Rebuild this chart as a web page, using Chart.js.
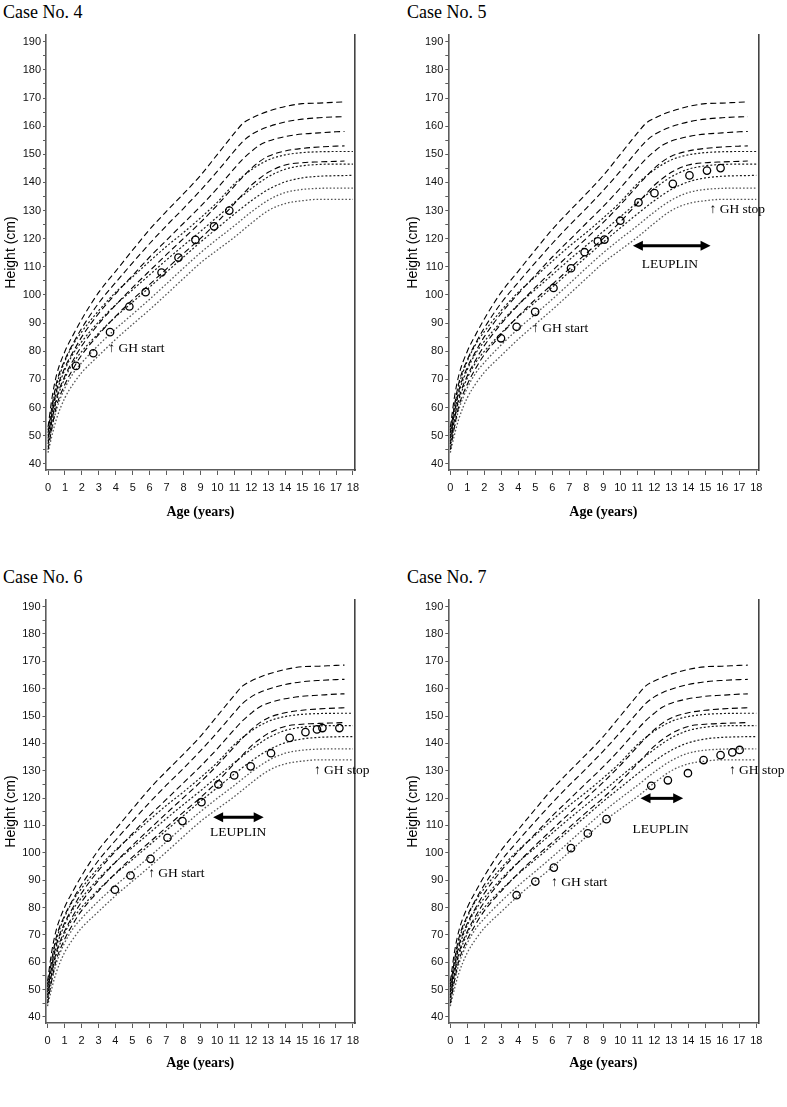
<!DOCTYPE html>
<html>
<head>
<meta charset="utf-8">
<script src="https://cdn.jsdelivr.net/npm/chart.js@4.4.1/dist/chart.umd.min.js"></script>
<style>
    body { margin: 0; background: #fff; width: 787px; height: 1107px; position: relative; overflow: hidden; }
    canvas { position: absolute; }
    .case-title {
        position: absolute;
        font-family: 'Liberation Serif', 'Times New Roman', serif;
        font-size: 18px;
        line-height: 20px;
        color: #000;
        white-space: nowrap;
    }
</style>
</head>
<body>
<div class="case-title" style="left:3px; top:2px;">Case No. 4</div>
<div class="case-title" style="left:407px; top:2px;">Case No. 5</div>
<div class="case-title" style="left:3px; top:567px;">Case No. 6</div>
<div class="case-title" style="left:407px; top:567px;">Case No. 7</div>
<canvas id="chart4" width="393" height="548" style="left:0px; top:0px;"></canvas>
<canvas id="chart5" width="385" height="548" style="left:402px; top:0px;"></canvas>
<canvas id="chart6" width="393" height="537" style="left:0px; top:564px;"></canvas>
<canvas id="chart7" width="385" height="537" style="left:402px; top:564px;"></canvas>
<script>
// 基準曲線（破線：一般女子 +2SD〜-2SD）
const normAges = [0, 0.25, 0.5, 1, 1.5, 2, 3, 4, 5, 6, 7, 8, 9, 10, 11, 11.5, 12, 12.5, 13, 14, 15, 16, 17, 17.5];
const normPlus2 = [53, 64, 71.5, 80, 86, 91.5, 101, 108.5, 116, 123.3, 129.8, 136, 142.5, 150, 157.5, 161, 162.8, 164.2, 165.3, 167, 168, 168.2, 168.5, 168.6];
const normPlus1 = [51, 61, 68.8, 77, 83, 88.3, 97.2, 104.5, 111.5, 118.3, 124.7, 130.8, 137.2, 144, 151.2, 154.6, 157, 158.6, 159.8, 161.5, 162.5, 163, 163.3, 163.4];
const normMean = [49, 58.5, 66, 74.3, 80, 85.2, 93.5, 100.5, 107, 113.5, 119.5, 125.5, 131.5, 138, 145, 148.3, 151, 153.3, 154.7, 156.3, 157.2, 157.6, 158, 158.1];
const normMinus1 = [47, 56, 63.3, 71.3, 77, 82, 89.8, 96.5, 102.7, 108.6, 114.4, 120.1, 125.8, 132, 138.7, 142, 145, 147.5, 149.3, 151.2, 152.1, 152.6, 152.9, 153];
const normMinus2 = [45, 53.5, 60.5, 68.3, 74, 78.8, 86, 92.5, 98.4, 103.8, 109.3, 114.8, 120.1, 126, 132.5, 135.8, 139, 141.5, 143.6, 146.2, 147, 147.3, 147.5, 147.6];

// 基準曲線（点線）
const dotAges = [0, 0.25, 0.5, 1, 1.5, 2, 3, 4, 5, 6, 7, 8, 9, 10, 11, 12, 13, 14, 15, 16, 17, 18];
const dot1 = [52, 60.5, 67.8, 76.5, 82.5, 87, 94.5, 101, 106.5, 112, 117.3, 122.2, 127.4, 133, 139.5, 144.5, 148, 149.8, 150.6, 150.9, 151, 151];
const dot2 = [50, 58.3, 65.2, 73.5, 79.3, 83.5, 90.5, 96.6, 101.9, 107.2, 112.5, 117.6, 122.6, 127.8, 132.9, 137.8, 142, 144.7, 145.9, 146.4, 146.5, 146.5];
const dot3 = [48, 56, 62.5, 70.5, 76, 80, 86.5, 92.3, 97.5, 102.8, 108.2, 113.5, 118.8, 123.8, 128.8, 133.5, 137.5, 140.2, 141.6, 142.2, 142.4, 142.5];
const dot4 = [46, 53.2, 59.3, 67, 72.3, 76, 82.3, 88, 93.2, 98.5, 104, 109.6, 115, 119.9, 124.6, 129.5, 133.7, 136.4, 137.5, 137.9, 138, 138];
const dot5 = [44, 50.5, 56, 63.5, 68.5, 72.5, 78.5, 84.3, 89.6, 94.8, 100.3, 105.9, 111.4, 116, 120.5, 125.5, 130, 132.5, 133.5, 134, 134, 134];

// 症例データ
const case4Age = [1.65, 2.67, 3.66, 4.8, 5.76, 6.7, 7.7, 8.7, 9.8, 10.7];
const case4Height = [74.8, 79.3, 86.8, 95.9, 101.0, 108.0, 113.3, 119.6, 124.4, 130.0];
const case5Age = [2.98, 3.9, 4.99, 6.07, 7.1, 7.9, 8.68, 9.07, 10.0, 11.07, 12.01, 13.09, 14.07, 15.1, 15.9];
const case5Height = [84.6, 88.7, 94.0, 102.5, 109.5, 115.2, 119.1, 119.7, 126.4, 132.9, 136.2, 139.5, 142.5, 144.2, 145.1];
const case6Age = [3.97, 4.89, 6.07, 7.07, 7.95, 9.07, 10.07, 11.0, 11.97, 13.17, 14.27, 15.2, 15.88, 16.2, 17.2];
const case6Height = [86.5, 91.7, 97.8, 105.5, 111.6, 118.5, 125.0, 128.3, 131.6, 136.4, 142.0, 144.1, 145.1, 145.6, 145.6];
const case7Age = [3.9, 5.0, 6.09, 7.1, 8.09, 9.19, 11.82, 12.8, 13.98, 14.9, 15.9, 16.59, 17.02];
const case7Height = [84.5, 89.5, 94.6, 101.7, 107.1, 112.3, 124.5, 126.5, 129.1, 133.9, 135.7, 136.7, 137.6];

// 目盛り
const xTickValues = [0, 1, 2, 3, 4, 5, 6, 7, 8, 9, 10, 11, 12, 13, 14, 15, 16, 17, 18];
const yTickValues = [40, 45, 50, 55, 60, 65, 70, 75, 80, 85, 90, 95, 100, 105, 110, 115, 120, 125, 130, 135, 140, 145, 150, 155, 160, 165, 170, 175, 180, 185, 190];

// 注記（年齢, 身長）
const notes4 = [{ text: '↑ GH start', age: 3.56, cm: 81.1 }];
const notes5 = [{ text: '↑ GH start', age: 4.81, cm: 88.0 }, { text: '↑ GH stop', age: 15.25, cm: 130.3 }];
const notes6 = [{ text: '↑ GH start', age: 5.93, cm: 92.3 }, { text: '↑ GH stop', age: 15.7, cm: 130.1 }];
const notes7 = [{ text: '↑ GH start', age: 5.93, cm: 89.1 }, { text: '↑ GH stop', age: 16.39, cm: 130.2 }];
const leuplin5 = { from: 10.74, to: 15.31, cm: 117.5, labelAge: 12.92, labelCm: 110.8 };
const leuplin6 = { from: 9.76, to: 12.74, cm: 113.0, labelAge: 11.23, labelCm: 107.3 };
const leuplin7 = { from: 11.19, to: 13.7, cm: 119.9, labelAge: 12.37, labelCm: 108.4 };

const sansFont = "'Liberation Sans', Arial, sans-serif";
const serifFont = "'Liberation Serif', 'Times New Roman', serif";

function toPoints(xs, ys) {
    return xs.map((x, i) => ({ x: x, y: ys[i] }));
}

// 注記描画プラグイン
const notesPlugin = {
    id: 'caseNotes',
    afterDatasetsDraw(chart, args, opts) {
        const ctx = chart.ctx;
        const xs = chart.scales.x;
        const ys = chart.scales.y;
        ctx.save();
        ctx.fillStyle = '#000';
        ctx.strokeStyle = '#000';
        ctx.textBaseline = 'middle';
        ctx.textAlign = 'left';
        ctx.font = '13.5px ' + serifFont;
        (opts.labels || []).forEach(n => {
            ctx.fillText(n.text, xs.getPixelForValue(n.age), ys.getPixelForValue(n.cm));
        });
        const a = opts.arrow;
        if (a) {
            const x1 = xs.getPixelForValue(a.from);
            const x2 = xs.getPixelForValue(a.to);
            const y = ys.getPixelForValue(a.cm);
            const head = 10, half = 5;
            ctx.lineWidth = 3;
            ctx.beginPath();
            ctx.moveTo(x1 + head - 1, y);
            ctx.lineTo(x2 - head + 1, y);
            ctx.stroke();
            ctx.beginPath();
            ctx.moveTo(x1, y);
            ctx.lineTo(x1 + head, y - half);
            ctx.lineTo(x1 + head, y + half);
            ctx.closePath();
            ctx.fill();
            ctx.beginPath();
            ctx.moveTo(x2, y);
            ctx.lineTo(x2 - head, y - half);
            ctx.lineTo(x2 - head, y + half);
            ctx.closePath();
            ctx.fill();
            ctx.textAlign = 'center';
            ctx.font = '13.5px ' + serifFont;
            ctx.fillText('LEUPLIN', xs.getPixelForValue(a.labelAge), ys.getPixelForValue(a.labelCm));
        }
        ctx.restore();
    }
};

function curve(ages, values, dash, color, width) {
    return {
        data: toPoints(ages, values),
        showLine: true,
        borderColor: color,
        borderWidth: width,
        borderDash: dash,
        pointRadius: 0,
        fill: false,
        cubicInterpolationMode: 'monotone'
    };
}

// グラフ生成
function makeChart(id, geom, ages, heights, labels, arrow) {
    const canvas = document.getElementById(id);
    const axisColor = '#5c5c5c';
    const datasets = [
        {
            data: toPoints(ages, heights),
            showLine: false,
            pointStyle: 'circle',
            pointRadius: 3.7,
            pointBorderWidth: 1.3,
            pointBorderColor: '#000',
            pointBackgroundColor: 'rgba(255,255,255,0)'
        },
        curve(normAges, normPlus2, [6, 3.5], '#000', 1.1),
        curve(normAges, normPlus1, [6, 3.5], '#000', 1.1),
        curve(normAges, normMean, [6, 3.5], '#000', 1.1),
        curve(normAges, normMinus1, [6, 3.5], '#000', 1.1),
        curve(normAges, normMinus2, [6, 3.5], '#000', 1.1),
        curve(dotAges, dot1, [2, 2], '#1a1a1a', 1.2),
        curve(dotAges, dot2, [2, 2], '#1a1a1a', 1.2),
        curve(dotAges, dot3, [2, 2], '#1a1a1a', 1.2),
        curve(dotAges, dot4, [1.6, 2], '#555', 1.3),
        curve(dotAges, dot5, [1.6, 2], '#555', 1.3)
    ];
    return new Chart(canvas.getContext('2d'), {
        type: 'scatter',
        data: { datasets: datasets },
        plugins: [notesPlugin],
        options: {
            responsive: false,
            devicePixelRatio: 1,
            animation: false,
            events: [],
            layout: { padding: { top: geom.top, left: 0, right: 0, bottom: 0 } },
            plugins: {
                legend: { display: false },
                tooltip: { enabled: false },
                caseNotes: { labels: labels, arrow: arrow }
            },
            scales: {
                x: {
                    type: 'linear',
                    min: -0.12,
                    max: 18.12,
                    afterBuildTicks: s => { s.ticks = xTickValues.map(v => ({ value: v })); },
                    afterFit: s => { s.height = geom.h - geom.bottom; },
                    ticks: { font: { family: sansFont, size: 11 }, color: '#111', padding: 6, maxRotation: 0, autoSkip: false },
                    grid: { drawOnChartArea: false, drawTicks: true, tickLength: 5, color: axisColor },
                    border: { display: true, color: axisColor, width: 1.6 },
                    title: {
                        display: true,
                        text: 'Age (years)',
                        color: '#000',
                        font: { family: serifFont, size: 14, weight: 'bold' },
                        padding: { top: 0, bottom: geom.titlePad }
                    }
                },
                y: {
                    type: 'linear',
                    position: 'left',
                    min: 37.8,
                    max: 192.4,
                    afterBuildTicks: s => { s.ticks = yTickValues.map(v => ({ value: v })); },
                    afterFit: s => { s.width = geom.left; },
                    ticks: {
                        callback: v => (v % 10 === 0 ? v : ''),
                        font: { family: sansFont, size: 11 },
                        color: '#111',
                        padding: 2,
                        autoSkip: false
                    },
                    grid: { drawOnChartArea: false, drawTicks: true, tickLength: 3, color: axisColor },
                    border: { display: true, color: axisColor, width: 1.6 },
                    title: {
                        display: true,
                        text: 'Height (cm)',
                        color: '#000',
                        font: { family: sansFont, size: 14 },
                        padding: { top: 2.6, bottom: 0 }
                    }
                },
                y2: {
                    type: 'linear',
                    position: 'right',
                    min: 37.8,
                    max: 192.4,
                    afterFit: s => { s.width = geom.w - geom.right; },
                    ticks: { display: false },
                    grid: { drawOnChartArea: false, drawTicks: false },
                    border: { display: true, color: '#444', width: 1.6 }
                }
            }
        }
    });
}

// パネル配置
const geom4 = { w: 393, h: 548, left: 46, right: 355, top: 35, bottom: 470, titlePad: 27.6 };
const geom5 = { w: 385, h: 548, left: 46.3, right: 356.3, top: 35, bottom: 470, titlePad: 27.6 };
const geom6 = { w: 393, h: 537, left: 45.5, right: 355, top: 36, bottom: 459, titlePad: 29 };
const geom7 = { w: 385, h: 537, left: 46.3, right: 356.3, top: 36, bottom: 459, titlePad: 29 };

makeChart('chart4', geom4, case4Age, case4Height, notes4, null);
makeChart('chart5', geom5, case5Age, case5Height, notes5, leuplin5);
makeChart('chart6', geom6, case6Age, case6Height, notes6, leuplin6);
makeChart('chart7', geom7, case7Age, case7Height, notes7, leuplin7);
</script>
</body>
</html>
